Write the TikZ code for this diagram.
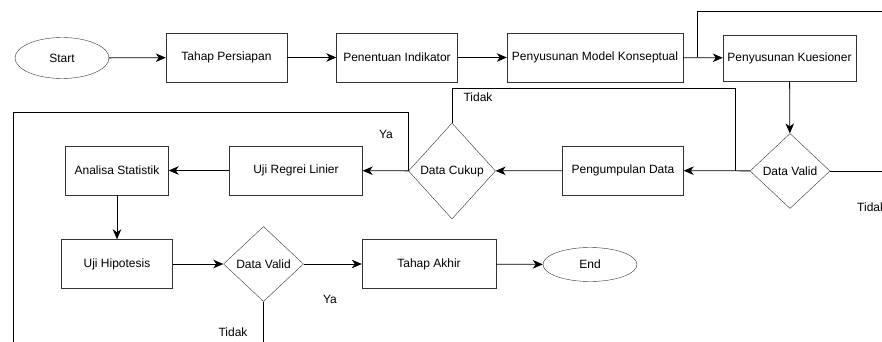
\documentclass[tikz,border=0pt]{standalone}
\usepackage{fontspec}
\setmainfont{Liberation Sans}
\usepackage{tikz}
\usetikzlibrary{arrows.meta,shapes.geometric,calc}
\definecolor{edge}{HTML}{333333}
\tikzset{process/.style={draw=edge,fill=white,align=center,font=\fontsize{12}{14}\selectfont,minimum height=49pt,inner sep=0pt}, terminal/.style={draw=edge,ellipse,font=\fontsize{12}{14}\selectfont,minimum width=94pt,inner sep=0pt}, decision/.style={draw=edge,diamond,font=\fontsize{12}{14}\selectfont,minimum width=80pt,minimum height=75pt,inner sep=0pt}, flow/.style={-{Stealth[length=10pt,width=8.5pt,inset=3pt]},draw=black,line width=0.8pt}, wire/.style={draw=black,line width=0.8pt}, note/.style={font=\fontsize{12}{14}\selectfont,inner sep=0pt}}

\begin{document}
\begin{tikzpicture}[x=1pt,y=-1pt]
\useasboundingbox (0,0) rectangle (882,342);
\node[terminal,minimum height=41pt] (start) at (62,58) {Start};
\node[process,minimum width=121pt] (persiapan) at (226.5,57.5) {Tahap Persiapan};
\node[process,minimum width=121pt] (indikator) at (397,57.5) {Penentuan Indikator};
\node[process,minimum width=176pt] (konseptual) at (595,57.5) {Penyusunan Model Konseptual};
\node[process,minimum width=133pt,minimum height=46pt] (kuesioner) at (789.5,58) {Penyusunan Kuesioner};
\node[decision] (valid) at (790,171) {\makebox[0pt]{Data Valid}};
\node[process,minimum width=121pt] (pengumpulan) at (623,170.5) {Pengumpulan Data};
\node[decision,minimum width=87pt,minimum height=96pt] (cukup) at (452,171) {\makebox[0pt]{Data Cukup}};
\node[process,minimum width=133pt] (regresi) at (296,170.5) {Uji Regrei Linier};
\node[process,minimum width=103pt] (analisa) at (117,170.5) {Analisa Statistik};
\node[process,minimum width=111pt] (hipotesis) at (117,264) {Uji Hipotesis};
\node[decision] (validakhir) at (263.5,264) {\makebox[0pt]{Data Valid}};
\node[process,minimum width=134pt] (akhir) at (429,264) {Tahap Akhir};
\node[terminal,minimum height=34pt] (end) at (590,264.5) {End};
% free ends
\coordinate (kembali) at (697,57.5);
\coordinate (atas) at (882,11);
\coordinate (kanan) at (882,171);
\coordinate (simpul) at (735.5,88);
\coordinate (cabang) at (735.5,171);
\coordinate (kiri) at (13,342);
\coordinate (bawah) at (263.5,342);
\draw[flow] (start)--(persiapan);
\draw[flow] (persiapan)--(indikator);
\draw[flow] (indikator)--(konseptual);
\draw[flow] (konseptual)--(kuesioner);
\draw[flow] (kuesioner)--(valid);
\draw[flow] (valid)--(pengumpulan);
\draw[flow] (pengumpulan)--(cukup);
\draw[flow] (cukup)--(regresi);
\draw[flow] (regresi)--(analisa);
\draw[flow] (analisa)--(hipotesis);
\draw[flow] (hipotesis)--(validakhir);
\draw[flow] (validakhir)--(akhir);
\draw[flow] (akhir)--(end);
\draw[wire] (kembali) |- (atas);
\draw[wire] (valid.east)--(kanan);
\draw[wire] (cukup.north) |- (simpul)--(cabang);
\draw[wire] (cukup.west)--(cukup.west |- 0,112) -| (kiri);
\draw[wire] (validakhir.south)--(bawah);
\node[note,anchor=west] (tidakkanan) at (857,207) {Tidak};
\node[note] (tidakcukup) at (478,97) {Tidak};
\node[note] (yacukup) at (386,134) {Ya};
\node[note] (yaakhir) at (330,299) {Ya};
\node[note] (tidakakhir) at (233,332) {Tidak};
\end{tikzpicture}
\end{document}
